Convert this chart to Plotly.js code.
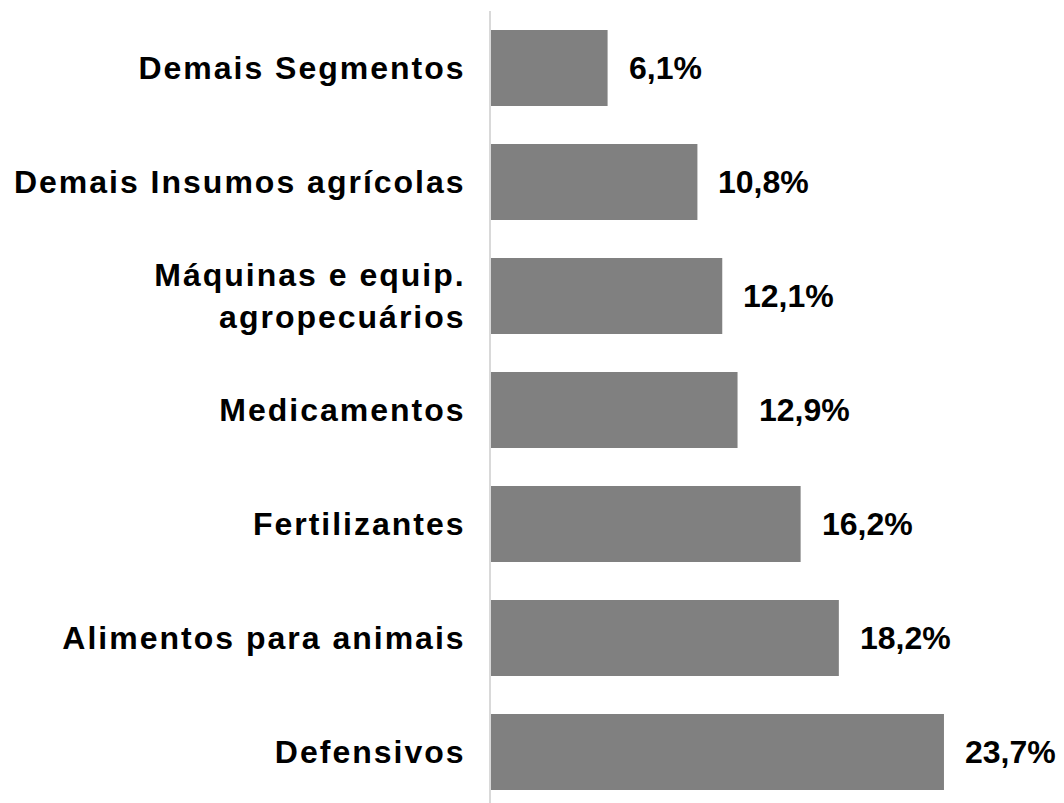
<!DOCTYPE html>
<html>
<head>
<meta charset="utf-8">
<script src="https://cdn.plot.ly/plotly-3.0.1.min.js"></script>
<style>
html,body{margin:0;padding:0;background:#fff;}
#chart{width:1064px;height:803px;}
#chart .ytick text{letter-spacing:2px;}
</style>
</head>
<body>
<div id="chart"></div>
<script>
const categories = [
  "Demais Segmentos",
  "Demais Insumos agrícolas",
  "Máquinas e equip.<br>agropecuários",
  "Medicamentos",
  "Fertilizantes",
  "Alimentos para animais",
  "Defensivos"
];
const values = [6.1, 10.8, 12.1, 12.9, 16.2, 18.2, 23.7];
const valueLabels = ["6,1%", "10,8%", "12,1%", "12,9%", "16,2%", "18,2%", "23,7%"];

const FONT = "'Liberation Sans', Arial, sans-serif";
const FS = 32;

const trace = {
  type: "bar",
  orientation: "h",
  x: values,
  y: categories,
  marker: {color: "#808080", line: {width: 0}},
  width: 0.667,
  hoverinfo: "none"
};

const annotations = values.map((v, i) => ({
  x: v, y: categories[i], xref: "x", yref: "y",
  text: valueLabels[i], showarrow: false,
  xanchor: "left", yanchor: "middle", xshift: 19,
  font: {family: FONT, size: FS, color: "#000", weight: "bold"}
}));

const layout = {
  width: 1064, height: 803,
  margin: {l: 491, r: 0, t: 11, b: 0, pad: 0},
  paper_bgcolor: "#fff", plot_bgcolor: "#fff",
  showlegend: false,
  xaxis: {range: [0, 29.98], visible: false, fixedrange: true},
  yaxis: {
    type: "category",
    categoryorder: "array", categoryarray: categories,
    range: [6.447, -0.5],
    showline: true, linecolor: "#d9d9d9", linewidth: 2,
    showgrid: false, zeroline: false, ticks: "",
    ticklabelstandoff: 17,
    tickfont: {family: FONT, size: FS, color: "#000", weight: "bold"}
  },
  annotations: annotations
};

Plotly.newPlot("chart", [trace], layout, {displayModeBar: false, staticPlot: true});
</script>
</body>
</html>
